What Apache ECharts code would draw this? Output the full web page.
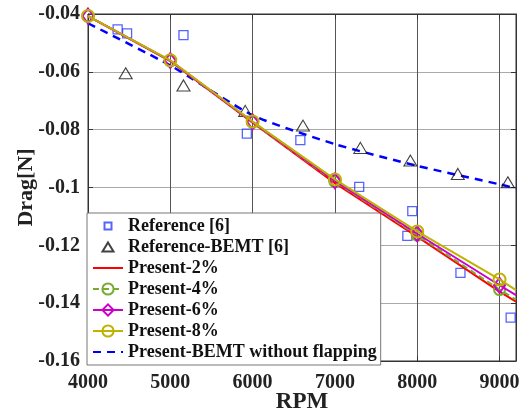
<!DOCTYPE html>
<html>
<head>
<meta charset="utf-8">
<script src="https://cdn.jsdelivr.net/npm/echarts@6/dist/echarts.min.js"></script>
<style>
  html, body { margin: 0; padding: 0; background: #fff; }
  #main { width: 527px; height: 416px; }
</style>
</head>
<body>
<div id="main"></div>
<script>
// reference data (squares)
var refRpm  = [4360, 4475, 5160, 5930, 6580, 7295, 7940, 7880, 8525, 9135];
var refDrag = [-0.0453, -0.0467, -0.0473, -0.0814, -0.0836, -0.0998, -0.1082, -0.1167, -0.1295, -0.145];

// reference BEMT (triangles)
var bemtRefRpm  = [4458, 5160, 5910, 6612, 7309, 7917, 8493, 9101];
var bemtRefDrag = [-0.0605, -0.0647, -0.0735, -0.0786, -0.0863, -0.0907, -0.0953, -0.0982];

// present results, last point is the line end (no marker)
var rpm = [4000, 5000, 6000, 7000, 8000, 9000, 9200];
var present2 = [-0.0407, -0.0563, -0.0776, -0.0985, -0.1170, -0.1360, -0.1395];
var present4 = [-0.0407, -0.0562, -0.0775, -0.0980, -0.1165, -0.1353, -0.1388];
var present6 = [-0.0407, -0.0561, -0.0773, -0.0977, -0.1160, -0.1338, -0.1372];
var present8 = [-0.0407, -0.0560, -0.0772, -0.0972, -0.1152, -0.1318, -0.1355];

// BEMT without flapping (dashed)
var bemtDrag = [-0.0432, -0.0578, -0.0750, -0.0850, -0.0925, -0.0989, -0.1003];

var xTicks = [4000, 5000, 6000, 7000, 8000, 9000];

function pairs(xs, ys) {
  var out = [];
  for (var i = 0; i < xs.length; i++) out.push([xs[i], ys[i]]);
  return out;
}
function lineData(ys) {
  var out = [];
  for (var i = 0; i < rpm.length; i++) {
    var d = { value: [rpm[i], ys[i]] };
    if (rpm[i] > 9000) d.symbol = 'none';
    out.push(d);
  }
  return out;
}

var font = 'Liberation Serif';
// small legend icons: the extra moveTo points pad the box so the shape stays small
var squareIcon = 'path://M0,0M14,14M3.5,3.5L10.5,3.5L10.5,10.5L3.5,10.5Z';
var triIcon = 'path://M0,0M14,14M7,2.5L12.5,11.5L1.5,11.5Z';
var noMarker = { color: 'rgba(0,0,0,0)', borderWidth: 0 };

var tickStyle = { show: true, inside: true, length: 5, lineStyle: { color: '#333' } };

var dom = document.getElementById('main');
var myChart = echarts.init(dom);
var option = {
  animation: false,
  grid: {
    left: 88, right: 11, top: 14, bottom: 55,
    outerBoundsMode: 'none',
    show: true, borderColor: '#333', borderWidth: 1
  },
  legend: {
    orient: 'vertical',
    left: 87, top: 213,
    padding: [4, 4, 4, 5],
    itemGap: 3,
    itemWidth: 30,
    itemHeight: 14,
    backgroundColor: '#fff',
    borderColor: '#777',
    borderWidth: 1,
    textStyle: { fontFamily: font, fontWeight: 'bold', fontSize: 18, color: '#111' },
    data: [
      { name: 'Reference [6]', icon: squareIcon },
      { name: 'Reference-BEMT [6]', icon: triIcon },
      { name: 'Present-2%', itemStyle: noMarker },
      'Present-4%',
      'Present-6%',
      'Present-8%',
      { name: 'Present-BEMT without flapping', itemStyle: noMarker }
    ]
  },
  xAxis: [{
    type: 'value',
    min: 4000, max: 9200, interval: 1000,
    name: 'RPM', nameLocation: 'middle', nameGap: 30, nameMoveOverlap: false,
    nameTextStyle: { fontFamily: font, fontWeight: 'bold', fontSize: 23, color: '#222' },
    axisLine: { show: true, onZero: false, lineStyle: { color: '#333' } },
    axisTick: tickStyle,
    axisLabel: {
      fontFamily: font, fontWeight: 'bold', fontSize: 20, color: '#222', margin: 12,
      formatter: function (v) { return xTicks.indexOf(v) >= 0 ? v : ''; }
    },
    splitLine: { show: true, lineStyle: { color: '#555', width: 1 } }
  }, {
    type: 'value', position: 'top',
    min: 4000, max: 9200, interval: 1000,
    axisLine: { show: true, onZero: false, lineStyle: { color: '#333' } },
    axisTick: tickStyle,
    axisLabel: { show: false },
    splitLine: { show: false }
  }],
  yAxis: [{
    type: 'value',
    min: -0.16, max: -0.04, interval: 0.02,
    name: 'Drag[N]', nameLocation: 'middle', nameGap: 51, nameMoveOverlap: false,
    nameTextStyle: { fontFamily: font, fontWeight: 'bold', fontSize: 22, color: '#222' },
    axisLine: { show: true, onZero: false, lineStyle: { color: '#333' } },
    axisTick: tickStyle,
    axisLabel: {
      fontFamily: font, fontWeight: 'bold', fontSize: 20, color: '#222', margin: 8,
      formatter: function (v) { return +v.toFixed(2); }
    },
    splitLine: { show: true, lineStyle: { color: '#aaa', width: 1 } }
  }, {
    type: 'value', position: 'right',
    min: -0.16, max: -0.04, interval: 0.02,
    axisLine: { show: true, onZero: false, lineStyle: { color: '#333' } },
    axisTick: tickStyle,
    axisLabel: { show: false },
    splitLine: { show: false }
  }],
  series: [
    {
      name: 'Reference [6]', type: 'scatter',
      symbol: 'rect', symbolSize: 9,
      itemStyle: { color: 'rgba(0,0,0,0)', borderColor: '#2a3cff', borderWidth: 1.3 },
      data: pairs(refRpm, refDrag), z: 3
    },
    {
      name: 'Reference-BEMT [6]', type: 'scatter',
      symbol: 'triangle', symbolSize: [13, 11],
      itemStyle: { color: 'rgba(0,0,0,0)', borderColor: '#111', borderWidth: 1.1 },
      data: pairs(bemtRefRpm, bemtRefDrag), z: 3
    },
    {
      name: 'Present-2%', type: 'line',
      symbol: 'none',
      lineStyle: { color: '#ff0000', width: 2 },
      itemStyle: { color: '#ff0000' },
      data: lineData(present2), z: 4
    },
    {
      name: 'Present-4%', type: 'line',
      symbol: 'circle', symbolSize: 11,
      lineStyle: { color: '#77ac30', width: 2, type: [6, 4] },
      itemStyle: { color: 'rgba(0,0,0,0)', borderColor: '#77ac30', borderWidth: 2 },
      data: lineData(present4), z: 5
    },
    {
      name: 'Present-6%', type: 'line',
      symbol: 'diamond', symbolSize: [11, 15],
      lineStyle: { color: '#cc00cc', width: 2 },
      itemStyle: { color: 'rgba(0,0,0,0)', borderColor: '#cc00cc', borderWidth: 2 },
      data: lineData(present6), z: 6
    },
    {
      name: 'Present-8%', type: 'line',
      symbol: 'circle', symbolSize: 12,
      lineStyle: { color: '#bdb300', width: 2 },
      itemStyle: { color: 'rgba(0,0,0,0)', borderColor: '#bdb300', borderWidth: 2 },
      data: lineData(present8), z: 7
    },
    {
      name: 'Present-BEMT without flapping', type: 'line',
      symbol: 'none', smooth: 0.2,
      lineStyle: { color: '#0000ff', width: 2.5, type: [8, 6] },
      itemStyle: { color: '#0000ff' },
      data: pairs(rpm, bemtDrag), z: 3
    }
  ]
};
myChart.setOption(option);
</script>
</body>
</html>
